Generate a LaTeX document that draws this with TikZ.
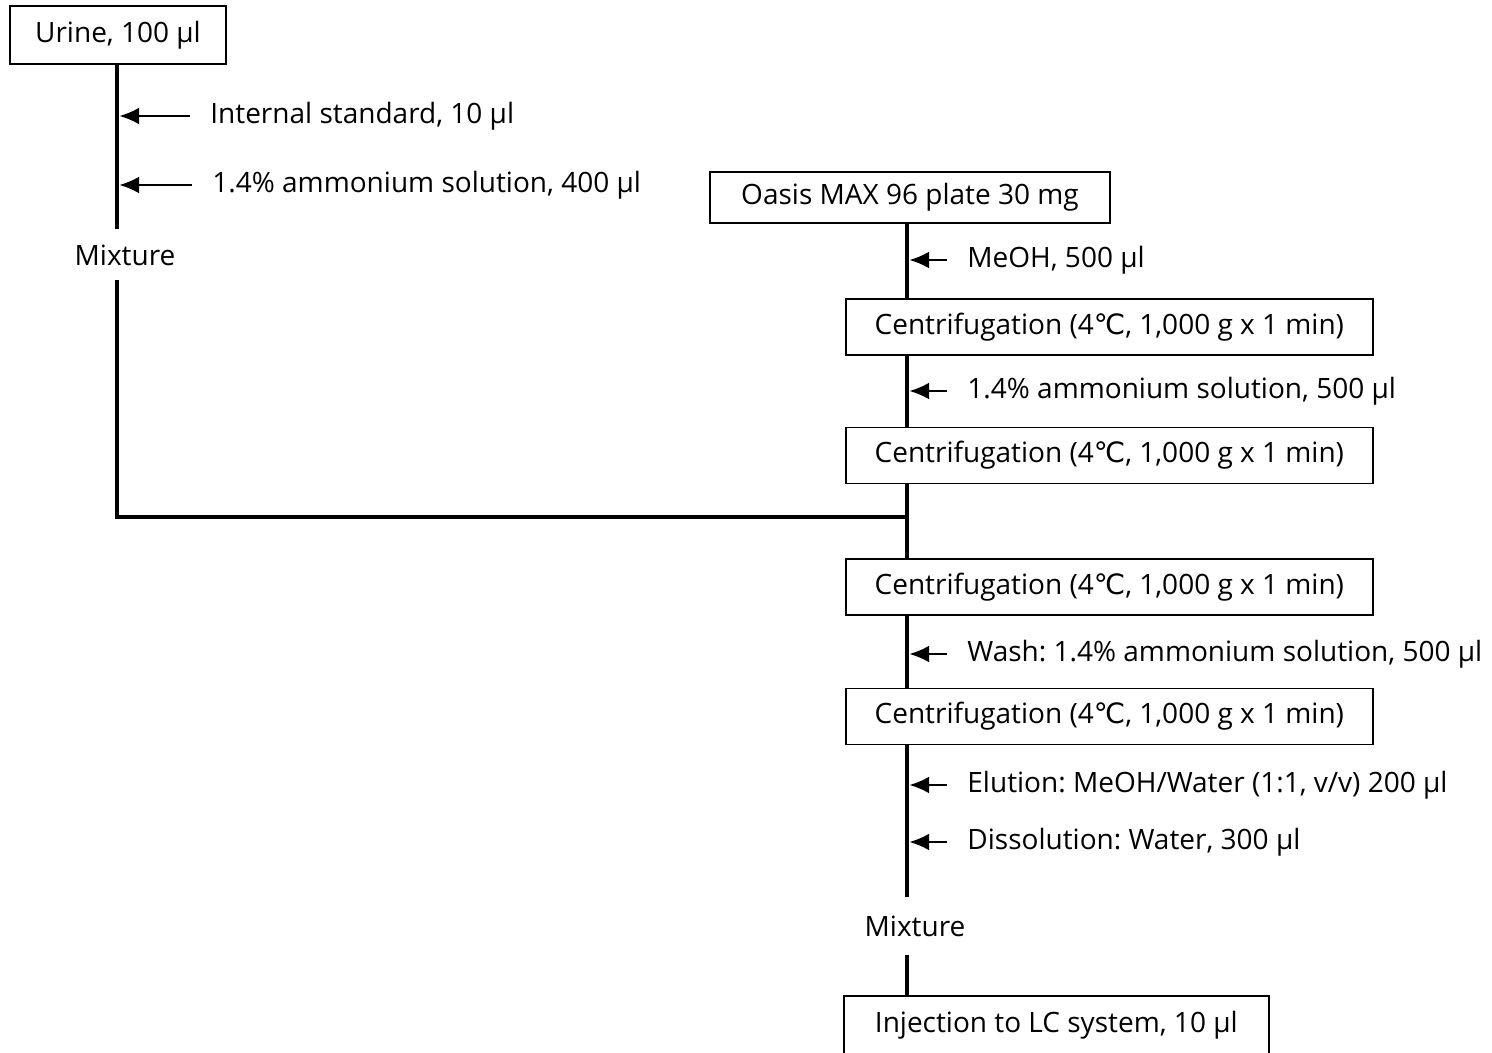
\documentclass[tikz,border=0pt]{standalone}
\usepackage{fontspec}
\setmainfont{Open Sans}
\newfontfamily\symfont{DejaVu Sans}
\usetikzlibrary{arrows.meta}
\newcommand{\degC}{{\symfont ℃}}
\frenchspacing

\begin{document}
\begin{tikzpicture}[x=0.5pt,y=-0.5pt]
\tikzstyle{every node}+=[font=\fontsize{14}{17}\selectfont]
\tikzstyle{stepbox}=[draw, line width=0.8pt, inner xsep=11.5pt, minimum height=28pt]
\tikzstyle{note}=[anchor=west, inner xsep=10pt, inner ysep=0pt]
\tikzstyle{trunk}=[line width=2.2pt]
\tikzstyle{feed}=[-{Latex[length=10pt,width=8.5pt]}, line width=1.2pt, shorten >=1.1pt]
\useasboundingbox (0,0) rectangle (1492,1053);
% urine branch
\node [stepbox, minimum width=108pt, minimum height=29pt] (urine) at (118,35) {Urine, 100 µl};
\node [note] (is) at (190,116) {Internal standard, 10 µl};
\node [note] (am1) at (192,185) {1.4\% ammonium solution, 400 µl};
\node [minimum height=26.5pt, inner ysep=0pt] (mix1) at (125,255.5) {Mixture};
\coordinate (jn) at (907,517);
\draw [trunk] (urine.south -| 117,0) -- (mix1.north -| 117,0);
\draw [trunk, line cap=rect] (mix1.south -| 117,0) -- (117,517) -- (jn);
\draw [feed] (is.west) -- (is.west -| 117,0);
\draw [feed] (am1.west) -- (am1.west -| 117,0);
% plate branch
\node [stepbox, minimum width=200pt, minimum height=25.5pt] (oasis) at (910,197.5) {Oasis MAX 96 plate 30 mg};
\node [note] (meoh) at (947,260) {MeOH, 500 µl};
\node [stepbox, anchor=west, minimum width=263.5pt] (c1) at (845,327) {Centrifugation (4\degC, 1,000 g x 1 min)};
\node [note] (am2) at (947,391) {1.4\% ammonium solution, 500 µl};
\node [stepbox, anchor=west, minimum width=263.5pt] (c2) at (845,455.5) {Centrifugation (4\degC, 1,000 g x 1 min)};
\node [stepbox, anchor=west, minimum width=263.5pt] (c3) at (845,587) {Centrifugation (4\degC, 1,000 g x 1 min)};
\node [note] (wash) at (947,654) {Wash: 1.4\% ammonium solution, 500 µl};
\node [stepbox, anchor=west, minimum width=263.5pt] (c4) at (845,716.5) {Centrifugation (4\degC, 1,000 g x 1 min)};
\node [note] (elu) at (947,785) {Elution: MeOH/Water (1:1, v/v) 200 µl};
\node [note] (dis) at (947,842) {Dissolution: Water, 300 µl};
\node [minimum height=29pt, inner ysep=0pt] (mix2) at (915,926) {Mixture};
\node [stepbox, anchor=north west, minimum width=212.5pt, minimum height=29pt] (inject) at (843,995) {Injection to LC system, 10 µl};
\draw [trunk] (oasis.south -| jn) -- (c1.north -| jn);
\draw [trunk] (c1.south -| jn) -- (c2.north -| jn);
\draw [trunk] (c2.south -| jn) -- (c3.north -| jn);
\draw [trunk] (c3.south -| jn) -- (c4.north -| jn);
\draw [trunk] (c4.south -| jn) -- (mix2.north -| jn);
\draw [trunk] (mix2.south -| jn) -- (inject.north -| jn);
\draw [feed] (meoh.west) -- (meoh.west -| jn);
\draw [feed] (am2.west) -- (am2.west -| jn);
\draw [feed] (wash.west) -- (wash.west -| jn);
\draw [feed] (elu.west) -- (elu.west -| jn);
\draw [feed] (dis.west) -- (dis.west -| jn);
\end{tikzpicture}
\end{document}
